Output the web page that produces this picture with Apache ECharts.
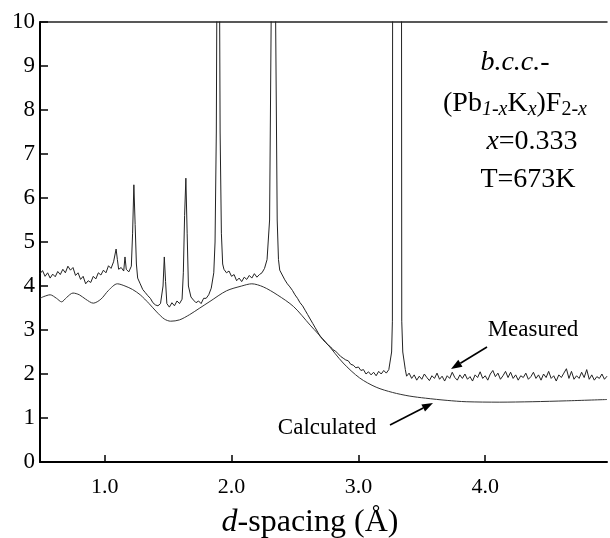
<!DOCTYPE html>
<html>
<head>
<meta charset="utf-8">
<script src="https://cdn.jsdelivr.net/npm/echarts@6/dist/echarts.min.js"></script>
<style>html,body{margin:0;padding:0;background:#fff}#c{width:610px;height:538px}</style>
</head>
<body>
<div id="c"></div>
<script>
// ---- data ----
const xTickValues = [1, 2, 3, 4];

const measuredD = [
0.49,0.51,0.53,0.55,0.57,0.59,0.61,0.63,0.65,0.67,0.69,0.71,0.73,0.75,0.77,0.79,0.81,0.83,0.85,0.87,0.89,0.91,0.93,0.95,0.97,0.99,1.01,1.03,1.05,1.07,
1.09,1.10,1.11,1.13,1.15,1.16,1.17,1.19,1.20,1.21,1.22,1.23,1.24,1.25,1.26,1.28,1.30,1.32,1.34,1.36,1.38,1.40,1.42,1.44,1.46,1.47,1.48,1.49,1.51,1.53,
1.55,1.57,1.59,1.61,1.62,1.63,1.64,1.65,1.66,1.68,1.70,1.72,1.74,1.76,1.78,1.80,1.82,1.84,1.86,1.87,1.88,1.885,1.905,1.91,1.92,1.93,1.94,1.96,1.98,2.00,
2.02,2.04,2.06,2.08,2.10,2.12,2.14,2.16,2.18,2.20,2.22,2.24,2.26,2.28,2.30,2.315,2.345,2.36,2.37,2.38,2.40,2.42,2.44,2.46,2.48,2.50,2.52,2.54,2.56,2.58,
2.60,2.62,2.64,2.66,2.68,2.70,2.72,2.74,2.76,2.78,2.80,2.82,2.84,2.86,2.88,2.90,2.92,2.94,2.96,2.98,3.00,3.02,3.04,3.06,3.08,3.10,3.12,3.14,3.16,3.18,
3.20,3.22,3.24,3.25,3.262,3.268,3.27,3.34,3.342,3.35,3.37,3.38,3.40,3.42,3.44,3.46,3.48,3.50,3.52,3.54,3.56,3.58,3.60,3.62,3.64,3.66,3.68,3.70,3.72,3.74,
3.76,3.78,3.80,3.82,3.84,3.86,3.88,3.90,3.92,3.94,3.96,3.98,4.00,4.02,4.04,4.06,4.08,4.10,4.12,4.14,4.16,4.18,4.20,4.22,4.24,4.26,4.28,4.30,4.32,4.34,
4.36,4.38,4.40,4.42,4.44,4.46,4.48,4.50,4.52,4.54,4.56,4.58,4.60,4.62,4.64,4.66,4.68,4.70,4.72,4.74,4.76,4.78,4.80,4.82,4.84,4.86,4.88,4.90,4.92,4.94,4.96
];
const measuredS = [
4.28,4.35,4.22,4.30,4.18,4.27,4.21,4.33,4.26,4.38,4.30,4.45,4.36,4.42,4.24,4.30,4.15,4.22,4.05,4.12,4.08,4.22,4.16,4.30,4.25,4.36,4.30,4.46,4.40,4.55,
4.84,4.60,4.38,4.42,4.34,4.66,4.38,4.32,4.35,4.45,5.2,6.3,5.4,4.5,4.18,4.05,3.92,3.85,3.78,3.72,3.62,3.57,3.55,3.60,4.0,4.66,4.1,3.6,3.52,3.62,
3.55,3.66,3.60,3.70,4.3,5.6,6.45,5.2,4.0,3.75,3.68,3.62,3.66,3.60,3.72,3.72,3.80,3.95,4.3,5.0,7.5,11,11,7.5,5.2,4.5,4.38,4.30,4.34,4.22,
4.26,4.12,4.18,4.10,4.20,4.15,4.24,4.18,4.28,4.20,4.26,4.30,4.40,4.60,5.5,11,11,5.5,4.6,4.36,4.25,4.14,4.05,3.98,3.90,3.80,3.72,3.62,3.55,3.45,
3.35,3.25,3.15,3.05,2.95,2.85,2.78,2.72,2.66,2.62,2.55,2.52,2.46,2.40,2.36,2.32,2.30,2.22,2.20,2.14,2.16,2.08,2.10,2.00,2.05,1.98,2.04,1.96,2.06,2.00,
2.08,2.02,2.10,2.1,2.5,3.2,11,11,3.2,2.5,2.1,1.95,2.02,1.90,1.98,1.86,1.95,1.88,2.00,1.92,1.85,1.96,1.90,2.02,1.88,1.95,1.84,1.96,1.90,2.04,
1.92,1.86,1.98,1.90,2.00,1.88,1.94,1.84,1.98,1.92,2.05,1.90,1.96,1.86,2.00,2.08,1.94,2.02,1.88,1.96,2.06,1.92,2.04,1.90,1.98,1.86,1.96,1.92,2.02,1.88,
1.94,2.04,1.90,1.98,1.86,2.00,1.92,2.06,1.90,1.96,1.84,1.98,1.92,2.02,2.12,1.90,2.06,1.88,1.96,1.90,2.04,1.92,2.10,1.88,1.98,1.86,1.94,1.90,2.00,1.88,1.95
];

const calculatedD = [0.49,0.52,0.57,0.62,0.66,0.70,0.75,0.80,0.85,0.91,0.97,1.03,1.10,1.16,1.22,1.28,1.35,1.41,1.47,1.52,1.59,1.67,1.75,1.83,1.96,2.08,2.16,2.25,2.36,2.49,2.62,2.75,2.88,3.01,3.14,3.27,3.40,3.53,3.70,3.85,4.11,4.37,4.64,4.96];
const calculatedS = [3.72,3.76,3.80,3.72,3.64,3.74,3.84,3.80,3.70,3.61,3.70,3.90,4.05,4.00,3.92,3.80,3.60,3.41,3.25,3.20,3.23,3.35,3.50,3.65,3.89,4.00,4.05,3.98,3.80,3.53,3.11,2.70,2.25,1.91,1.70,1.58,1.50,1.45,1.40,1.37,1.36,1.37,1.39,1.42];

const measuredData = measuredD.map((d, i) => [d, measuredS[i]]);
const calculatedData = calculatedD.map((d, i) => [d, calculatedS[i]]);

const SERIF = '"Liberation Serif", "DejaVu Serif", serif';
const chart = echarts.init(document.getElementById('c'), null, {renderer: 'canvas'});

function arrow(x1, y1, x2, y2) {
  const ang = Math.atan2(y2 - y1, x2 - x1);
  const L = 11, W = 4;
  const bx = x2 - L * Math.cos(ang), by = y2 - L * Math.sin(ang);
  const px = -Math.sin(ang) * W, py = Math.cos(ang) * W;
  return [
    {type: 'line', shape: {x1: x1, y1: y1, x2: bx, y2: by}, style: {stroke: '#000', lineWidth: 1.6}},
    {type: 'polygon', shape: {points: [[x2, y2], [bx + px, by + py], [bx - px, by - py]]}, style: {fill: '#000'}}
  ];
}

const option = {
  animation: false,
  backgroundColor: '#fff',
  grid: {left: 40, right: 3, top: 22, bottom: 76, containLabel: false},
  xAxis: [{
    type: 'value', min: 0.49, max: 4.96, position: 'bottom',
    axisLine: {show: true, onZero: false, lineStyle: {color: '#000', width: 2}},
    axisTick: {show: true, inside: true, length: 7, customValues: xTickValues, lineStyle: {color: '#000', width: 1.5}},
    axisLabel: {customValues: xTickValues, formatter: v => v.toFixed(1), color: '#000', fontFamily: SERIF, fontSize: 22, margin: 14},
    splitLine: {show: false}
  }, {
    type: 'value', min: 0.49, max: 4.96, position: 'top',
    axisLine: {show: true, onZero: false, lineStyle: {color: '#222', width: 1.5}},
    axisTick: {show: false}, axisLabel: {show: false}, splitLine: {show: false}
  }],
  yAxis: {
    type: 'value', min: 0, max: 10, interval: 1,
    axisLine: {show: true, onZero: false, lineStyle: {color: '#000', width: 2}},
    axisTick: {show: true, inside: true, length: 8, lineStyle: {color: '#000', width: 1.5}},
    axisLabel: {color: '#000', fontFamily: SERIF, fontSize: 23, margin: 5},
    splitLine: {show: false}
  },
  series: [{
    name: 'Measured', type: 'line', data: measuredData, showSymbol: false, symbol: 'none',
    lineStyle: {color: '#222', width: 1}, clip: true, z: 3
  }, {
    name: 'Calculated', type: 'line', data: calculatedData, showSymbol: false, symbol: 'none', smooth: 0.3,
    lineStyle: {color: '#333', width: 1}, clip: true, z: 2
  }],
  graphic: [
    {type: 'text', x: 310, y: 523, style: {text: '{i|d}-spacing (Å)', font: '32px ' + SERIF, fill: '#000', align: 'center', verticalAlign: 'middle',
      rich: {i: {fontStyle: 'italic', fontFamily: SERIF, fontSize: 32}}}},
    {type: 'text', x: 515, y: 63, style: {text: 'b.c.c.-', font: 'italic 28px ' + SERIF, fill: '#000', align: 'center', verticalAlign: 'middle'}},
    {type: 'text', x: 515, y: 104, style: {text: '(Pb{si|1-x}K{si|x})F{s|2-}{si|x}', font: '28px ' + SERIF, fill: '#000', align: 'center', verticalAlign: 'middle',
      rich: {si: {fontStyle: 'italic', fontSize: 20, fontFamily: SERIF, padding: [12, 0, 0, 0]}, s: {fontSize: 20, fontFamily: SERIF, padding: [12, 0, 0, 0]}}}},
    {type: 'text', x: 532, y: 142, style: {text: '{i|x}=0.333', font: '28px ' + SERIF, fill: '#000', align: 'center', verticalAlign: 'middle',
      rich: {i: {fontStyle: 'italic', fontSize: 28, fontFamily: SERIF}}}},
    {type: 'text', x: 528, y: 180, style: {text: 'T=673K', font: '28px ' + SERIF, fill: '#000', align: 'center', verticalAlign: 'middle'}},
    {type: 'text', x: 533, y: 330, style: {text: 'Measured', font: '23px ' + SERIF, fill: '#000', align: 'center', verticalAlign: 'middle'}},
    {type: 'text', x: 327, y: 428, style: {text: 'Calculated', font: '23px ' + SERIF, fill: '#000', align: 'center', verticalAlign: 'middle'}},
    ...arrow(487, 347, 451, 369),
    ...arrow(390, 425, 433, 403)
  ]
};
chart.setOption(option);
</script>
</body>
</html>
